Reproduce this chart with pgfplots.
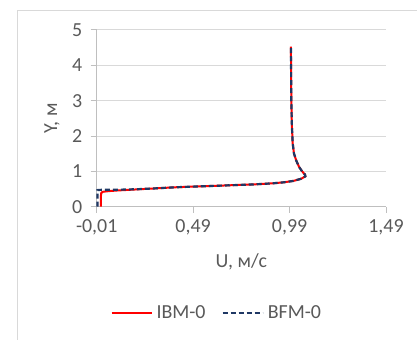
\documentclass[border=0pt]{standalone}
\usepackage{pgfplots}
\pgfplotsset{compat=1.18}
\usepackage{fontspec}
\setmainfont{Carlito}
\definecolor{txt}{HTML}{595959}
\definecolor{grd}{HTML}{D9D9D9}
\definecolor{axl}{HTML}{BFBFBF}
\definecolor{navy}{HTML}{1F3864}
\begin{document}
\begin{tikzpicture}[x=1bp,y=1bp]
\path[use as bounding box] (0,0) rectangle (417,340);
\draw[grd, line width=1bp] (17.5,-5) -- (17.5,329.5) -- (425,329.5);
\begin{axis}[
  at={(96.7bp,133.3bp)}, anchor=south west,
  scale only axis, width=289.3bp, height=176.7bp,
  xmin=-0.01, xmax=1.49, ymin=0, ymax=5,
  xtick={-0.01,0.49,0.99,1.49},
  xticklabels={{-0,01},{0,49},{0,99},{1,49}},
  ytick={0,1,2,3,4,5},
  axis lines=left,
  axis line style={-, axl, line width=1bp},
  tick style={axl, line width=1bp},
  tick align=outside, major tick length=6bp,
  ymajorgrids, major grid style={grd, line width=1bp},
  /pgf/number format/assume math mode=true,
  tick label style={font=\fontsize{20}{23}\selectfont, text=txt},
  xticklabel style={yshift=-3bp},
  yticklabel style={xshift=-5bp},
  label style={font=\fontsize{20}{23}\selectfont, text=txt},
  xlabel={U, м/с},
  xlabel style={at={(axis description cs:0.5,-0.313)}, anchor=center},
  ylabel={Y, м},
  ylabel style={at={(axis description cs:-0.1545,0.5)}, anchor=center, rotate=0},
  legend columns=2,
  legend style={at={(axis description cs:0.415,-0.60)}, anchor=center, draw=none,
    font=\fontsize{20}{23}\selectfont, text=txt,
    /tikz/every odd column/.append style={column sep=2bp},
    /tikz/every even column/.append style={column sep=14bp}},
  legend image code/.code={\draw[#1] (0cm,0cm) -- (40bp,0cm);},
  clip=false,
]
\addplot[red, line width=2bp] coordinates {
(0.012,0) (0.012,0.30) (0.013,0.38) (0.020,0.42) (0.05,0.44) (0.1,0.46)
(0.2,0.49) (0.3,0.52) (0.4,0.55) (0.5,0.57) (0.6,0.59) (0.7,0.61)
(0.8,0.63) (0.9,0.66) (0.96,0.69) (1.01,0.73) (1.05,0.79) (1.072,0.86)
(1.07,0.91) (1.055,1.0) (1.04,1.12) (1.025,1.3) (1.013,1.5) (1.006,1.8)
(1.002,2.3) (0.999,3.0) (0.998,3.8) (0.997,4.53)};
\addlegendentry{IBM-0}
\addplot[navy, line width=2.2bp, dash pattern=on 5bp off 3bp] coordinates {
(-0.006,0) (-0.006,0.47) (0.02,0.48) (0.1,0.48) (0.2,0.495) (0.3,0.52)
(0.4,0.55) (0.5,0.57) (0.6,0.59) (0.7,0.61)
(0.8,0.63) (0.9,0.66) (0.96,0.69) (1.01,0.73) (1.05,0.79) (1.072,0.86)
(1.07,0.91) (1.055,1.0) (1.04,1.12) (1.025,1.3) (1.013,1.5) (1.006,1.8)
(1.002,2.3) (0.999,3.0) (0.998,3.8) (0.997,4.53)};
\addlegendentry{BFM-0}
\end{axis}
\end{tikzpicture}
\end{document}
